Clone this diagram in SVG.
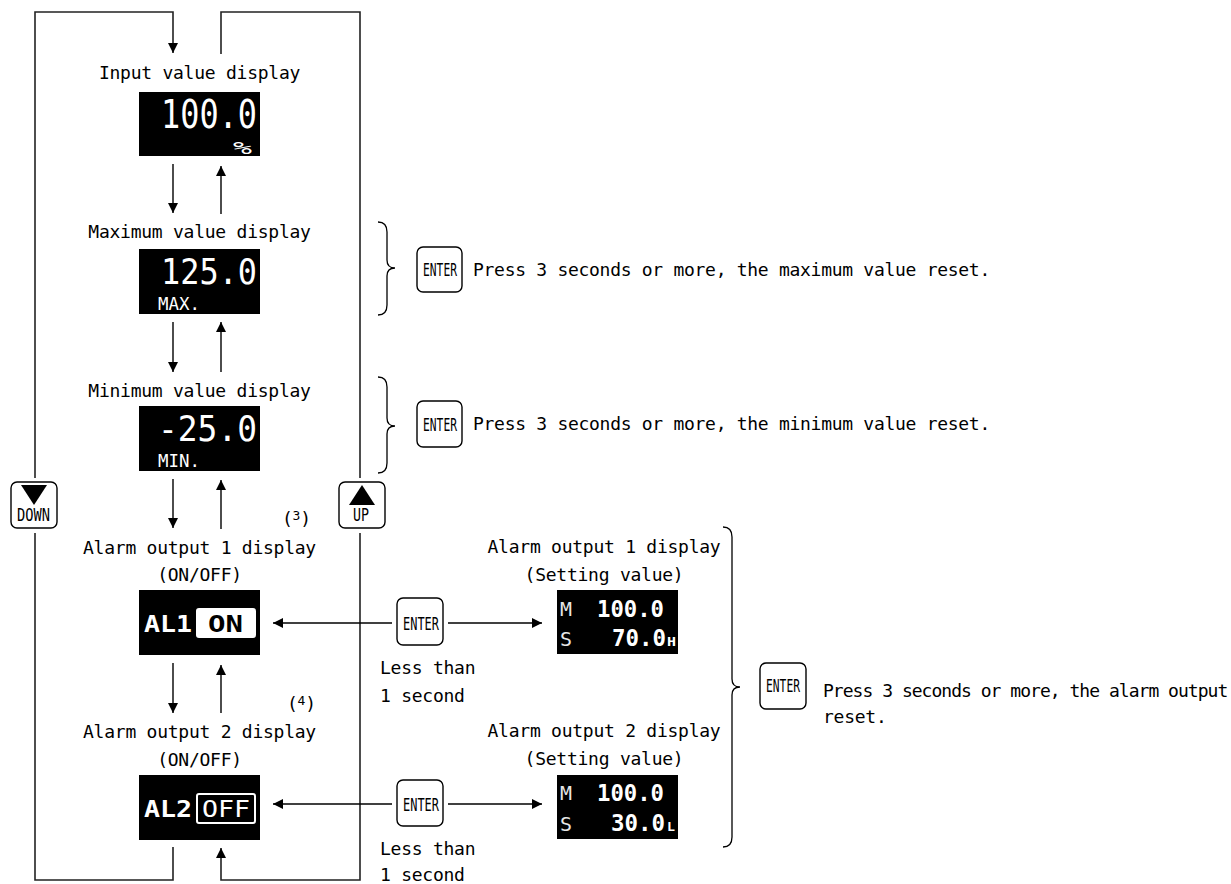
<svg xmlns="http://www.w3.org/2000/svg" width="1231" height="884" viewBox="0 0 1231 884">
<style>
.t{font-family:"DejaVu Sans Mono","Liberation Mono",monospace;font-size:18px;letter-spacing:-0.25px;fill:#000}
.c{text-anchor:middle}
.big{font-family:"DejaVu Sans Mono","Liberation Mono",monospace;fill:#fff}
.seg{font-family:"DejaVu Sans Mono","Liberation Mono",monospace;font-weight:bold;fill:#fff}
.dim{font-family:"DejaVu Sans Mono","Liberation Mono",monospace;fill:#e6e6e6;font-size:20px}
.btn{fill:#fff;stroke:#000;stroke-width:1.4}
.bt{font-family:"DejaVu Sans Mono","Liberation Mono",monospace;font-size:17px;fill:#000}
.ln{fill:none;stroke:#000;stroke-width:1.4}
.lp{fill:none;stroke:#222;stroke-width:1.6}
.br{fill:none;stroke:#000;stroke-width:1.3}
</style>
<defs>
<marker id="ah" viewBox="0 0 10 10" refX="10" refY="5" markerWidth="10" markerHeight="10" markerUnits="userSpaceOnUse" orient="auto">
<path d="M0,0 L10,5 L0,10 Z" fill="#000"/>
</marker>
</defs>

<g id="connectors">
<path class="lp" d="M35,478 V12 H173 V53" marker-end="url(#ah)"/>
<path class="lp" d="M221,54 V12 H360 V478"/>
<path class="lp" d="M35,533 V880 H173 V847"/>
<path class="lp" d="M360,533 V880 H221 V848" marker-end="url(#ah)"/>
<path class="ln" d="M173,164 V213" marker-end="url(#ah)"/>
<path class="ln" d="M221,214 V166" marker-end="url(#ah)"/>
<path class="ln" d="M173,322 V372" marker-end="url(#ah)"/>
<path class="ln" d="M221,372 V322" marker-end="url(#ah)"/>
<path class="ln" d="M173,479 V528" marker-end="url(#ah)"/>
<path class="ln" d="M221,529 V480" marker-end="url(#ah)"/>
<path class="ln" d="M173,663 V713" marker-end="url(#ah)"/>
<path class="ln" d="M221,713 V665" marker-end="url(#ah)"/>
<path class="ln" d="M392,623 H273" marker-end="url(#ah)"/>
<path class="ln" d="M448,623 H542" marker-end="url(#ah)"/>
<path class="ln" d="M392,804 H273" marker-end="url(#ah)"/>
<path class="ln" d="M448,804 H542" marker-end="url(#ah)"/>
</g>

<g id="input-display">
<text class="t c" x="199.5" y="79">Input value display</text>
<rect x="139" y="92" width="121" height="64" fill="#000"/>
<text class="big" x="161" y="128" font-size="39" textLength="96" lengthAdjust="spacingAndGlyphs">100.0</text>
<text class="big" x="233" y="154" font-size="18" textLength="19" lengthAdjust="spacingAndGlyphs">%</text>
</g>

<g id="max-display">
<text class="t c" x="199.5" y="238">Maximum value display</text>
<rect x="139" y="249" width="121" height="65" fill="#000"/>
<text class="big" x="161" y="284" font-size="36" textLength="96" lengthAdjust="spacingAndGlyphs">125.0</text>
<text class="big" x="158" y="310" font-size="18" textLength="42" lengthAdjust="spacingAndGlyphs">MAX.</text>
</g>

<g id="min-display">
<text class="t c" x="199.5" y="397">Minimum value display</text>
<rect x="139" y="406" width="121" height="65" fill="#000"/>
<text class="big" x="158" y="441" font-size="36" textLength="99" lengthAdjust="spacingAndGlyphs">-25.0</text>
<text class="big" x="158" y="467" font-size="18" textLength="42" lengthAdjust="spacingAndGlyphs">MIN.</text>
</g>

<g id="alarm1-display">
<text class="t" x="282" y="525">(<tspan font-size="13" dy="-5">3</tspan><tspan dy="5">)</tspan></text>
<text class="t c" x="199.5" y="554">Alarm output 1 display</text>
<text class="t c" x="199.5" y="581">(ON/OFF)</text>
<rect x="139" y="590" width="121" height="65" fill="#000"/>
<text class="seg" x="144" y="632" font-size="23" textLength="48" lengthAdjust="spacingAndGlyphs">AL1</text>
<rect x="196" y="608" width="60" height="30" rx="3" fill="#fff"/>
<text class="seg" x="208" y="632" font-size="23" textLength="35" lengthAdjust="spacingAndGlyphs" style="fill:#000">ON</text>
</g>

<g id="alarm2-display">
<text class="t" x="287" y="710">(<tspan font-size="13" dy="-5">4</tspan><tspan dy="5">)</tspan></text>
<text class="t c" x="199.5" y="738">Alarm output 2 display</text>
<text class="t c" x="199.5" y="766">(ON/OFF)</text>
<rect x="139" y="775" width="121" height="65" fill="#000"/>
<text class="seg" x="144" y="817" font-size="23" textLength="48" lengthAdjust="spacingAndGlyphs">AL2</text>
<rect x="197" y="794" width="58" height="29" rx="2" fill="none" stroke="#fff" stroke-width="2"/>
<text class="big" x="202" y="817" font-size="23" textLength="48" lengthAdjust="spacingAndGlyphs">OFF</text>
</g>

<g id="down-button">
<rect class="btn" x="11" y="482" width="46" height="46" rx="6"/>
<path d="M21,485 H47 L34,505 Z" fill="#000"/>
<text class="bt" x="17" y="521" font-size="16" textLength="33" lengthAdjust="spacingAndGlyphs">DOWN</text>
</g>

<g id="up-button">
<rect class="btn" x="339" y="482" width="46" height="46" rx="6"/>
<path d="M349,505 H375 L362,485 Z" fill="#000"/>
<text class="bt" x="353" y="521" font-size="16" textLength="16" lengthAdjust="spacingAndGlyphs">UP</text>
</g>

<g id="max-reset">
<path class="br" d="M378,222 Q387,222 387,232 V260 Q387,268 395,268 Q387,268 387,276 V305 Q387,315 378,315"/>
<rect class="btn" x="417" y="247" width="45" height="45" rx="6"/>
<text class="bt" x="423" y="276" textLength="34" lengthAdjust="spacingAndGlyphs">ENTER</text>
<text class="t" x="473" y="276" textLength="517">Press 3 seconds or more, the maximum value reset.</text>
</g>

<g id="min-reset">
<path class="br" d="M378,377 Q387,377 387,387 V418 Q387,426 395,426 Q387,426 387,434 V463 Q387,473 378,473"/>
<rect class="btn" x="417" y="401" width="45" height="46" rx="6"/>
<text class="bt" x="423" y="431" textLength="34" lengthAdjust="spacingAndGlyphs">ENTER</text>
<text class="t" x="473" y="430" textLength="517">Press 3 seconds or more, the minimum value reset.</text>
</g>

<g id="enter1">
<rect class="btn" x="397" y="598" width="46" height="47" rx="6"/>
<text class="bt" x="403" y="630" textLength="36" lengthAdjust="spacingAndGlyphs">ENTER</text>
<text class="t" x="380" y="674">Less than</text>
<text class="t" x="380" y="702">1 second</text>
</g>

<g id="enter2">
<rect class="btn" x="397" y="780" width="46" height="46" rx="6"/>
<text class="bt" x="403" y="811" textLength="36" lengthAdjust="spacingAndGlyphs">ENTER</text>
<text class="t" x="380" y="855">Less than</text>
<text class="t" x="380" y="881">1 second</text>
</g>

<g id="alarm1-setting">
<text class="t c" x="604" y="553">Alarm output 1 display</text>
<text class="t c" x="604" y="581">(Setting value)</text>
<rect x="557" y="590" width="121" height="64" fill="#000"/>
<text class="dim" x="560" y="616" textLength="12" lengthAdjust="spacingAndGlyphs">M</text>
<text class="seg" x="597" y="617" font-size="23" textLength="67" lengthAdjust="spacingAndGlyphs">100.0</text>
<text class="dim" x="560" y="646" textLength="12" lengthAdjust="spacingAndGlyphs">S</text>
<text class="seg" x="612" y="646" font-size="23" textLength="54" lengthAdjust="spacingAndGlyphs">70.0</text>
<text class="seg" x="667" y="646" font-size="13" textLength="9" lengthAdjust="spacingAndGlyphs">H</text>
</g>

<g id="alarm2-setting">
<text class="t c" x="604" y="737">Alarm output 2 display</text>
<text class="t c" x="604" y="765">(Setting value)</text>
<rect x="557" y="775" width="121" height="64" fill="#000"/>
<text class="dim" x="560" y="800" textLength="12" lengthAdjust="spacingAndGlyphs">M</text>
<text class="seg" x="597" y="801" font-size="23" textLength="67" lengthAdjust="spacingAndGlyphs">100.0</text>
<text class="dim" x="560" y="831" textLength="12" lengthAdjust="spacingAndGlyphs">S</text>
<text class="seg" x="611" y="831" font-size="23" textLength="54" lengthAdjust="spacingAndGlyphs">30.0</text>
<text class="seg" x="667" y="831" font-size="13" textLength="8" lengthAdjust="spacingAndGlyphs">L</text>
</g>

<g id="alarm-reset">
<path class="br" d="M723,527 Q732,527 732,537 V679 Q732,687 740,687 Q732,687 732,695 V837 Q732,847 723,847"/>
<rect class="btn" x="760" y="663" width="46" height="46" rx="6"/>
<text class="bt" x="766" y="692" textLength="34" lengthAdjust="spacingAndGlyphs">ENTER</text>
<text class="t" x="823" y="697" textLength="405">Press 3 seconds or more, the alarm output</text>
<text class="t" x="823" y="723">reset.</text>
</g>
</svg>
